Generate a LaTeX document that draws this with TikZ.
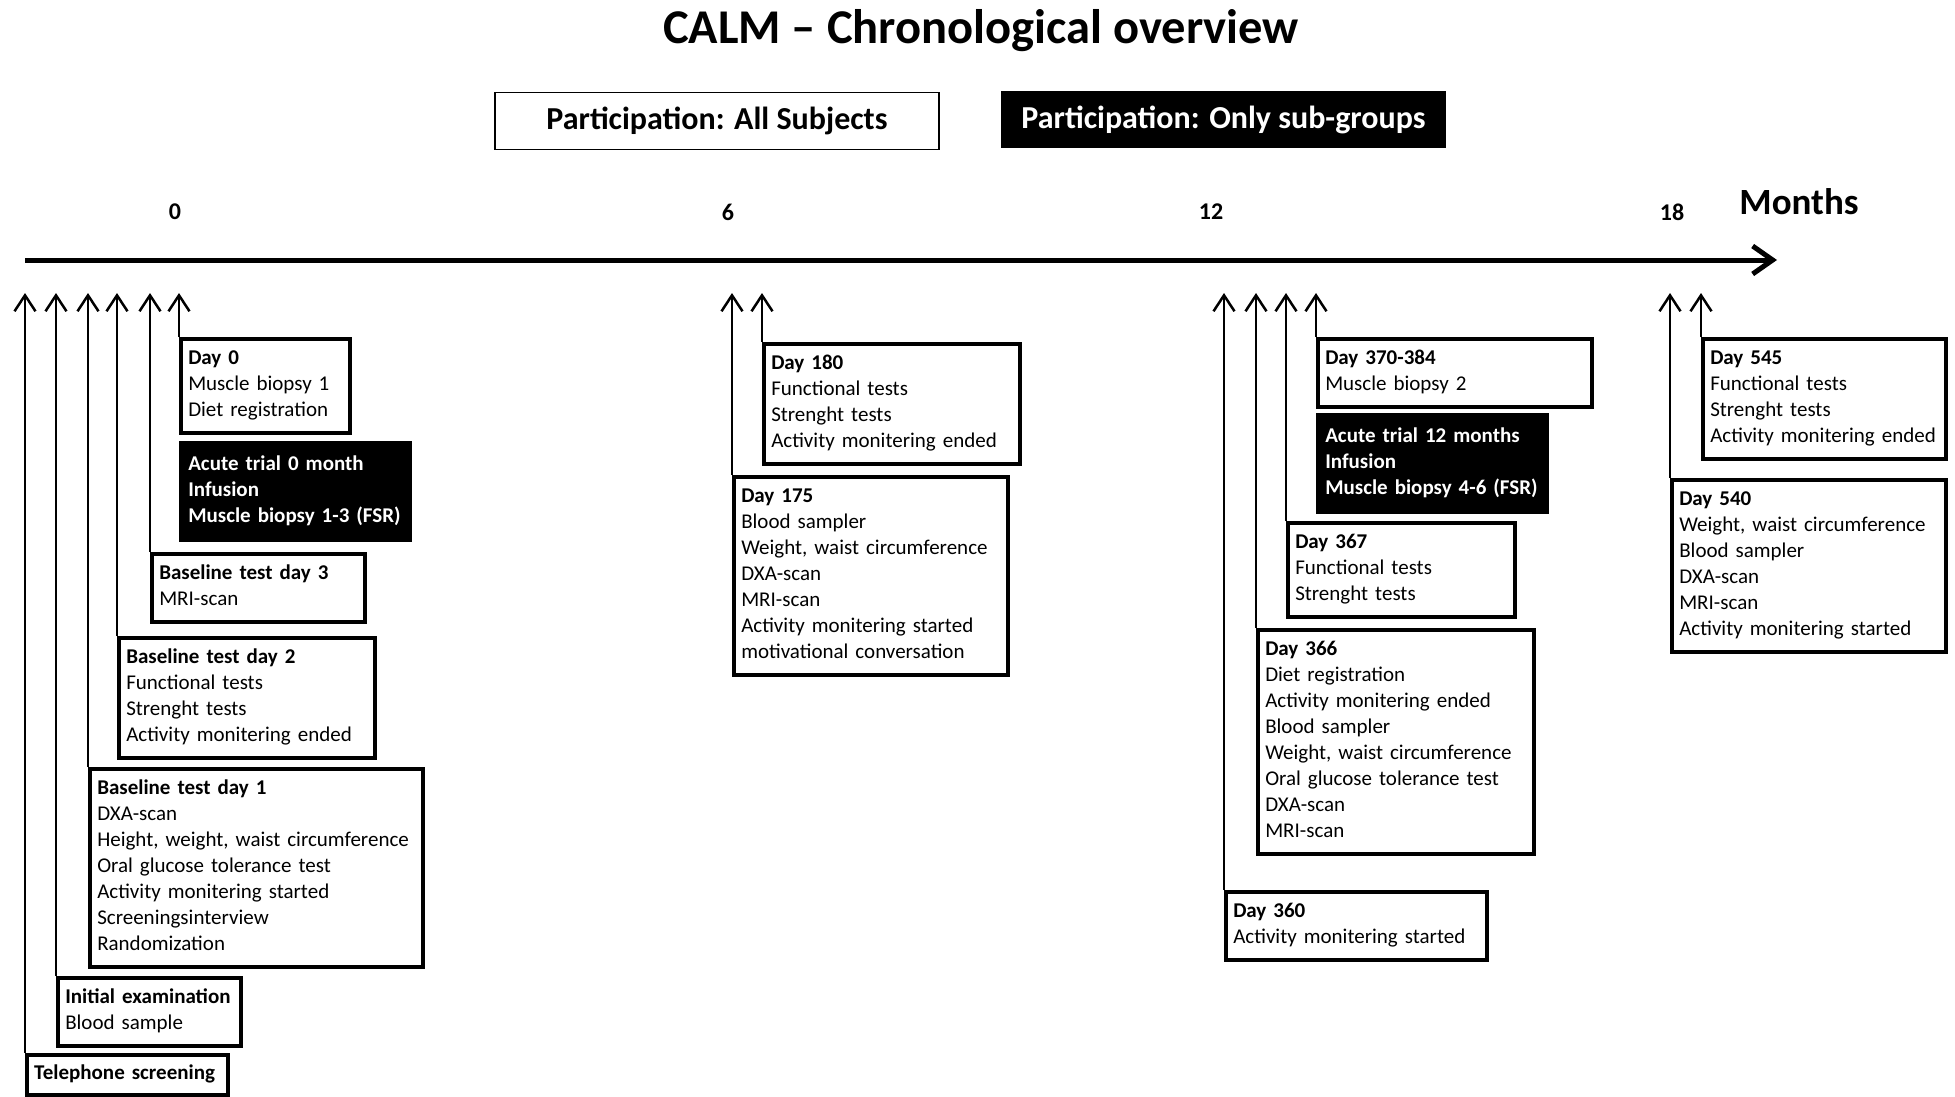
\documentclass[tikz,border=0pt]{standalone}
\usepackage{fontspec}
\setmainfont{Carlito}
\usetikzlibrary{arrows.meta}
\newcommand{\boxlines}[1]{\begin{tabular}{@{}l@{}}#1\end{tabular}}
\tikzset{
  box/.style={draw, line width=3.5pt, anchor=north west, align=left, inner xsep=7.5pt, inner ysep=8pt,
    font=\fontsize{21}{26}\selectfont},
  blackbox/.style={box, fill=black, text=white, inner ysep=9.5pt, font=\bfseries\fontsize{21}{26}\selectfont},
  tick/.style={line width=2.5pt, -{Straight Barb[length=16pt,width=21pt]}},
  axislabel/.style={font=\bfseries\fontsize{24}{28}\selectfont},
  legend/.style={minimum height=57pt, inner sep=0pt, font=\bfseries\fontsize{32}{38}\selectfont},
}
\begin{document}
\begin{tikzpicture}[x=1pt,y=-1pt]
\useasboundingbox (0,0) rectangle (1955,1097);

% title and legend
\node[font=\bfseries\fontsize{48.5}{58}\selectfont] (title) at (981,31) {CALM – Chronological overview};
\node[legend, draw, line width=1.5pt, minimum width=444pt] (legA) at (717,121) {Participation: All Subjects};
\node[legend, fill=black, text=white, minimum width=445pt] (legB) at (1223.5,120) {Participation: Only sub-groups};

% time axis
\coordinate (axs) at (25,260);
\coordinate (axe) at (1777,260);
\draw[line width=5pt, -{Straight Barb[length=20pt,width=28pt]}] (axs) -- (axe);
\node[axislabel] (m0) at (175,212) {0};
\node[axislabel] (m6) at (728,212) {6};
\node[axislabel] (m12) at (1211,212) {12};
\node[axislabel] (m18) at (1672,212) {18};
\node[font=\bfseries\fontsize{37}{44}\selectfont] (months) at (1799,202) {Months};

% month 0 boxes
\node[box, text width=154pt] (d0) at (179,337) {\boxlines{\textbf{Day 0}\\Muscle biopsy 1\\Diet registration}};
\node[blackbox, text width=214pt] (ac0) at (179,441) {\boxlines{Acute trial 0 month\\Infusion\\Muscle biopsy 1-3 (FSR)}};
\node[box, text width=198pt] (b3) at (150,552) {\boxlines{\textbf{Baseline test day 3}\\MRI-scan}};
\node[box, text width=241pt] (b2) at (117,636) {\boxlines{\textbf{Baseline test day 2}\\Functional tests\\Strenght tests\\Activity monitering ended}};
\node[box, text width=318pt] (b1) at (88,767) {\boxlines{\textbf{Baseline test day 1}\\DXA-scan\\Height, weight, waist circumference\\Oral glucose tolerance test\\Activity monitering started\\Screeningsinterview\\Randomization}};
\node[box, text width=168pt] (init) at (56,976) {\boxlines{\textbf{Initial examination}\\Blood sample}};
\node[box, text width=186pt, inner ysep=7pt] (tel) at (25,1053) {\boxlines{\textbf{Telephone screening}}};

% month 6 boxes
\node[box, text width=241pt] (d180) at (762,342) {\boxlines{\textbf{Day 180}\\Functional tests\\Strenght tests\\Activity monitering ended}};
\node[box, text width=259pt] (d175) at (732,475) {\boxlines{\textbf{Day 175}\\Blood sampler\\Weight, waist circumference\\DXA-scan\\MRI-scan\\Activity monitering started\\motivational conversation}};

% month 12 boxes
\node[box, text width=259pt] (d370) at (1316,337) {\boxlines{\textbf{Day 370-384}\\Muscle biopsy 2}};
\node[blackbox, text width=214pt] (ac12) at (1316,413) {\boxlines{Acute trial 12 months\\Infusion\\Muscle biopsy 4-6 (FSR)}};
\node[box, text width=212pt] (d367) at (1286,521) {\boxlines{\textbf{Day 367}\\Functional tests\\Strenght tests}};
\node[box, text width=261pt] (d366) at (1256,628) {\boxlines{\textbf{Day 366}\\Diet registration\\Activity monitering ended\\Blood sampler\\Weight, waist circumference\\Oral glucose tolerance test\\DXA-scan\\MRI-scan}};
\node[box, text width=246pt] (d360) at (1224,890) {\boxlines{\textbf{Day 360}\\Activity monitering started}};

% month 18 boxes
\node[box, text width=228pt] (d545) at (1701,337) {\boxlines{\textbf{Day 545}\\Functional tests\\Strenght tests\\Activity monitering ended}};
\node[box, text width=259pt] (d540) at (1670,478) {\boxlines{\textbf{Day 540}\\Weight, waist circumference\\Blood sampler\\DXA-scan\\MRI-scan\\Activity monitering started}};

% arrow tips
\foreach \n/\x in {tel/25, init/56, b1/88, b2/117, b3/150, d0/179, d175/732, d180/762,
                   d360/1224, d366/1256, d367/1286, d370/1316, d540/1670, d545/1701} {
  \coordinate (t-\n) at (\x,293);
  \draw[tick] (\n.north west) -- (t-\n);
}
\end{tikzpicture}
\end{document}
